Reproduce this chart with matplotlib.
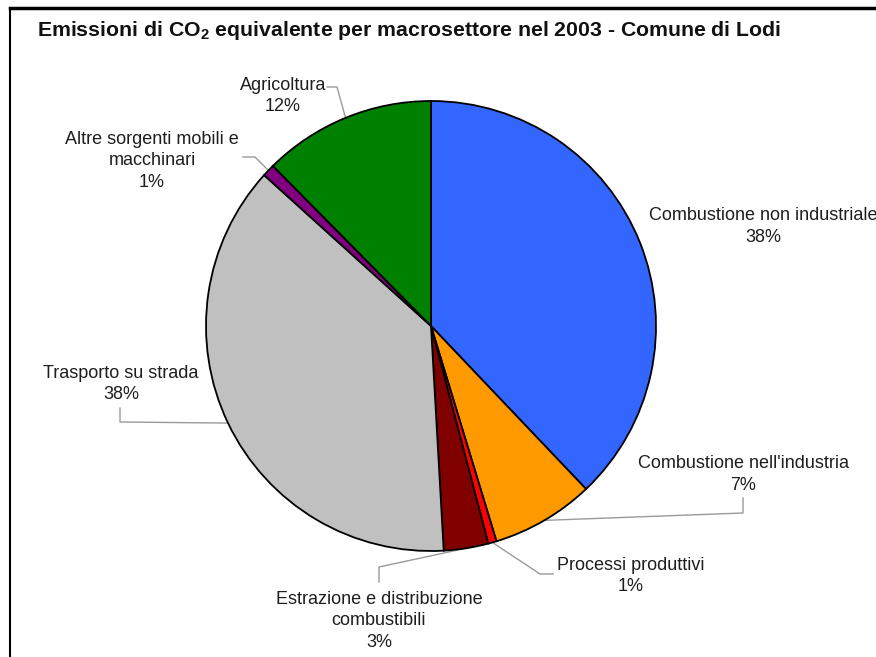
import matplotlib
matplotlib.use('Agg')
import matplotlib.pyplot as plt
from matplotlib.lines import Line2D
import numpy as np

plt.rcParams['font.family'] = ['Liberation Sans', 'DejaVu Sans']
plt.rcParams['mathtext.fontset'] = 'custom'
plt.rcParams['mathtext.rm'] = 'Liberation Sans'
plt.rcParams['mathtext.bf'] = 'Liberation Sans:bold'

# Data (share of CO2-eq emissions, %)
sectors = ['Combustione non industriale', "Combustione nell'industria",
           'Processi produttivi', 'Estrazione e distribuzione\ncombustibili',
           'Trasporto su strada', 'Altre sorgenti mobili e\nmacchinari',
           'Agricoltura']
shares = [37.9, 7.4, 0.6, 3.2, 37.6, 0.9, 12.4]
colors = ['#3366FF', '#FF9900', '#FF0000', '#800000', '#C0C0C0', '#800080', '#008000']

W, H = 876, 657
fig = plt.figure(figsize=(W / 100, H / 100), dpi=100, facecolor='white')
ax = fig.add_axes([0, 0, 1, 1])

cx, cy, R = 431, H - 326, 225
wedges, _ = ax.pie(shares, colors=colors, startangle=90, counterclock=False,
                   center=(cx, cy), radius=R,
                   wedgeprops=dict(edgecolor='black', linewidth=1.3))
ax.set_xlim(0, W)
ax.set_ylim(0, H)
ax.set_aspect('equal')
ax.axis('off')

# label centre x and y of first line centre (image px), leader elbow points
label_pos = [(763, 214), (743, 462), (631, 563), (379, 597), (121, 371), (152, 137), (283, 83)]
elbows = [None,
          [(743, 498), (743, 513)],
          [(553, 574), (540, 574)],
          [(379, 582), (379, 567)],
          [(120, 408), (120, 422)],
          [(243, 157), (255, 157)],
          [(327, 87), (337, 87)]]

tc = '#1e1e1e'
for w, name, v, (lx, ly), el in zip(wedges, sectors, shares, label_pos, elbows):
    ax.text(lx, H - (ly - 6.5), f'{name}\n{round(v):d}%', ha='center', va='top',
            fontsize=13, color=tc, linespacing=1.37)
    if el is None:
        continue
    mid = np.deg2rad((w.theta1 + w.theta2) / 2)
    px, py = cx + R * np.cos(mid), cy + R * np.sin(mid)
    xs = [p[0] for p in el] + [px]
    ys = [H - p[1] for p in el] + [py]
    ax.plot(xs, ys, color='#9a9a9a', lw=1, zorder=0.5)

fig.text(37 / W, 1 - 30 / H,
         r'Emissioni di CO$_\mathbf{2}$ equivalente per macrosettore nel 2003 - Comune di Lodi',
         fontsize=15.3, fontweight='bold', color='#111111', ha='left', va='center')

# outer frame (top and left edges visible)
fig.add_artist(Line2D([10 / W, 1], [1 - 8 / H, 1 - 8 / H], color='black', lw=2.5,
                      transform=fig.transFigure))
fig.add_artist(Line2D([10 / W, 10 / W], [0, 1 - 8 / H], color='black', lw=1.5,
                      transform=fig.transFigure))

fig.savefig('out.png', dpi=100, facecolor='white')
